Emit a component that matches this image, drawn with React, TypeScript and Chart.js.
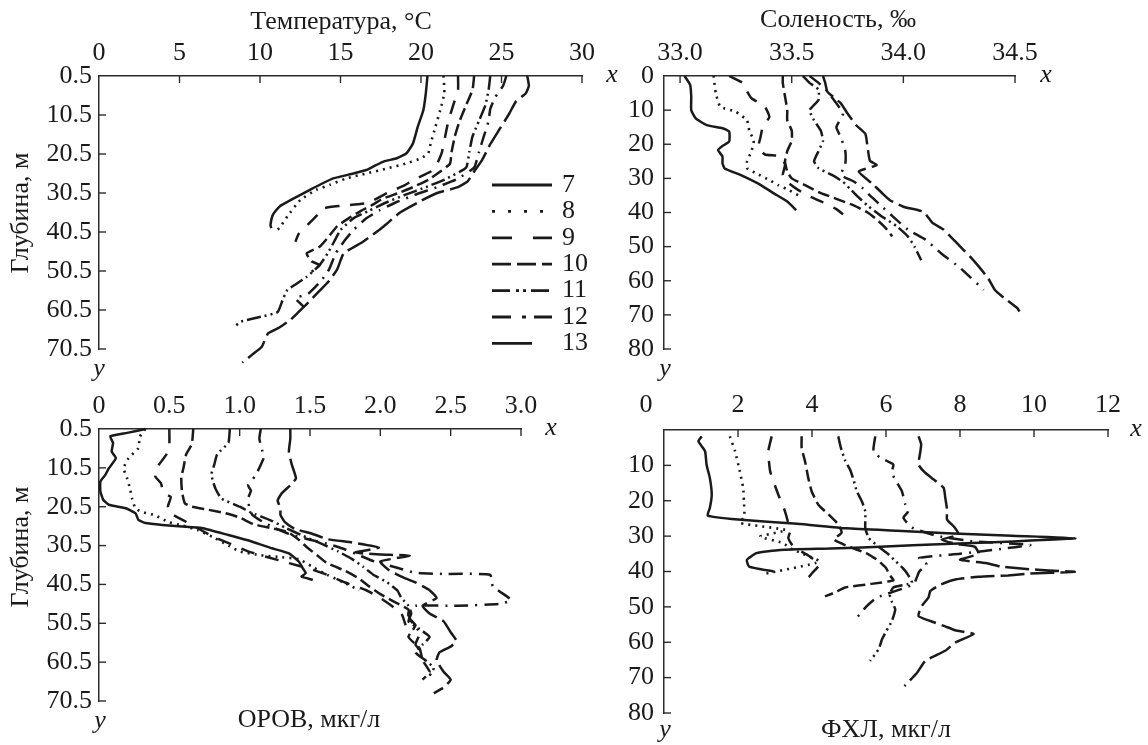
import React, { useEffect, useRef } from 'react';
import { Chart, registerables } from 'chart.js';

Chart.register(...registerables);

// ---------- DATA ----------
const seriesNames = ['7', '8', '9', '10', '11', '12', '13'];

const tempTicks = [0, 5, 10, 15, 20, 25, 30];
const salTicks = [33.0, 33.5, 34.0, 34.5];
const orovTicks = [0, 0.5, 1.0, 1.5, 2.0, 2.5, 3.0];
const fhlTicks = [0, 2, 4, 6, 8, 10, 12];
const depthTicksHalf = [0.5, 10.5, 20.5, 30.5, 40.5, 50.5, 60.5, 70.5];
const depthTicksSal = [0, 10, 20, 30, 40, 50, 60, 70, 80];
const depthTicksFhl = [0, 10, 20, 30, 40, 50, 60, 70, 80];

// pairs: [depth, value]
const temp7 = [[0.5, 20.4], [4.9, 20.3], [9.2, 20.15], [13.5, 19.8], [17.8, 19.5], [20.3, 19.1], [21.6, 18.5], [22.4, 17.7], [23.8, 17.0], [24.6, 16.6], [25.5, 15.8], [26.7, 14.6], [28.0, 13.9], [29.7, 13.1], [31.9, 12.1], [34.0, 11.2], [36.1, 10.8], [38.7, 10.65], [39.5, 10.7]];
const temp8 = [[0.5, 21.4], [4.9, 21.45], [9.2, 21.2], [13.5, 20.9], [17.8, 20.6], [20.3, 20.45], [21.6, 20.0], [22.9, 19.1], [24.2, 17.9], [25.5, 16.6], [26.7, 15.4], [28.4, 14.35], [29.7, 13.5], [32.3, 12.5], [36.5, 11.7], [39.5, 11.2], [40.2, 11.0]];
const temp9 = [[0.5, 22.3], [4, 22.3], [8, 22.0], [12, 21.7], [16, 21.5], [20, 21.3], [23, 21.0], [25, 20.6], [27, 19.6], [28.5, 19.0], [30.5, 17.9], [33, 16.7], [33.8, 15.0], [34.4, 14.0], [36, 13.6], [38.5, 13.0], [41, 12.4], [43, 12.2]];
const temp10 = [[0.5, 23.3], [4, 23.2], [8, 22.8], [12, 22.4], [16, 22.1], [20, 21.9], [23, 21.8], [25, 21.2], [27, 20.5], [29, 19.5], [30.5, 18.6], [32, 17.6], [33.5, 17.0], [35, 16.3], [37, 15.5], [39, 14.8], [42, 14.2], [44.3, 13.7], [46, 12.9], [48, 13.2], [49, 13.7], [50.7, 13.2]];
const temp11 = [[0.5, 24.3], [4, 24.2], [8, 24.0], [12, 23.6], [16, 23.2], [20, 23.0], [24, 22.8], [27, 21.5], [29, 20.3], [31, 19.0], [33, 17.8], [35, 16.8], [37, 15.8], [40, 15.0], [43, 14.6], [46, 14.2], [49, 13.7], [52, 12.9], [55.4, 11.7], [58, 11.4], [61, 11.1], [62.2, 10.1], [63.5, 8.8], [64.5, 8.5]];
const temp12 = [[0.5, 25.3], [3, 25.1], [6, 24.6], [9, 24.3], [12, 24.2], [16, 23.9], [20, 23.6], [24, 23.3], [27, 22.2], [29, 21.0], [31, 19.6], [33, 18.4], [35, 17.4], [37, 16.6], [40, 15.8], [43, 15.2], [46, 14.7], [50, 14.3], [53, 13.8], [56.3, 13.0], [57.5, 12.2], [59.6, 12.7]];
const temp13 = [[0.5, 26.6], [3, 26.7], [5, 26.5], [7, 25.9], [10, 25.5], [14, 24.9], [18, 24.3], [22, 23.8], [25, 23.3], [27.5, 22.9], [29, 22.3], [30.5, 21.0], [32.5, 20.0], [35.5, 18.7], [39, 17.7], [43, 16.4], [46, 15.2], [50, 14.8], [53, 14.3], [56, 13.6], [59, 12.9], [61, 12.4], [63, 11.9], [65, 11.2], [66.5, 10.5], [70, 10.1], [72, 9.5], [74, 8.9]];

const sal7 = [[0, 33.02], [2.6, 33.045], [6.1, 33.05], [10, 33.05], [12.4, 33.07], [14.4, 33.12], [15.3, 33.19], [16.3, 33.22], [19.2, 33.22], [20.5, 33.19], [21.7, 33.17], [23.6, 33.19], [25.6, 33.19], [27.1, 33.2], [29, 33.27], [31.9, 33.36], [34.4, 33.42], [36.8, 33.48], [39.3, 33.52]];
const sal8 = [[0, 33.15], [5, 33.16], [9, 33.18], [10.5, 33.25], [13, 33.3], [16, 33.31], [19, 33.33], [22, 33.32], [25, 33.3], [27, 33.3], [28.5, 33.34], [30.5, 33.4], [32, 33.44], [33.5, 33.49], [35, 33.53]];
const sal9 = [[0, 33.22], [2, 33.28], [4.5, 33.3], [6.5, 33.32], [9, 33.38], [12, 33.4], [15, 33.37], [18, 33.36], [21, 33.35], [23, 33.38], [23.5, 33.45], [26, 33.47], [29, 33.46], [31, 33.48], [33, 33.52], [35, 33.57], [37, 33.64], [39, 33.7], [40.5, 33.73]];
const sal10 = [[0, 33.46], [2, 33.46], [6, 33.47], [10, 33.48], [13, 33.48], [16, 33.5], [19, 33.5], [22, 33.48], [25, 33.47], [28, 33.48], [30, 33.5], [32, 33.56], [34, 33.62], [36, 33.7], [38, 33.78], [40, 33.84], [42, 33.88], [44.5, 33.92], [47, 33.95]];
const sal11 = [[0, 33.55], [2, 33.58], [4, 33.62], [7, 33.62], [10, 33.58], [13, 33.6], [16, 33.63], [19, 33.64], [22, 33.62], [25, 33.6], [27, 33.62], [29, 33.68], [31, 33.73], [33, 33.76], [35, 33.79], [38, 33.84], [41, 33.9], [44, 33.97], [47, 34.02], [50, 34.05], [54, 34.08]];
const sal12 = [[0, 33.58], [2, 33.62], [4.5, 33.66], [8, 33.7], [11, 33.73], [15, 33.7], [18, 33.72], [22, 33.74], [26, 33.74], [29, 33.72], [31, 33.78], [33, 33.82], [35, 33.85], [38, 33.9], [41, 33.95], [45, 34.02], [48, 34.1], [52, 34.17], [56, 34.25], [59, 34.3], [62.7, 34.36]];
const sal13 = [[0, 33.64], [2, 33.65], [4.6, 33.66], [8, 33.72], [11, 33.75], [14.5, 33.79], [17, 33.83], [21, 33.84], [24.8, 33.85], [26.1, 33.88], [28, 33.8], [31.5, 33.86], [34, 33.9], [36.4, 33.94], [38.3, 34.0], [39.8, 34.09], [43, 34.13], [45, 34.18], [49, 34.24], [53, 34.3], [56, 34.34], [59.3, 34.38], [62.7, 34.41], [65, 34.45], [68, 34.51], [69, 34.52]];

const orov7 = [[0.5, 0.33], [1.5, 0.2], [2.4, 0.08], [4.1, 0.1], [6.3, 0.09], [8, 0.12], [10.6, 0.07], [12.3, 0.045], [14, 0.01], [16.6, 0.01], [18.7, 0.03], [20, 0.07], [20.9, 0.19], [22.2, 0.26], [23.9, 0.28], [24.7, 0.33], [25.2, 0.45], [25.6, 0.59], [26, 0.73], [27.8, 0.92], [29.5, 1.09], [31.2, 1.23], [32.5, 1.35], [34.6, 1.42], [36.4, 1.45], [37.6, 1.47], [38.5, 1.44], [39.3, 1.52]];
const orov8 = [[0.5, 0.33], [2.5, 0.29], [5.4, 0.28], [8, 0.21], [10.6, 0.175], [13.2, 0.2], [15.8, 0.22], [18.4, 0.235], [21, 0.26], [22, 0.32], [22.7, 0.4], [24.4, 0.49], [25.3, 0.59], [26.5, 0.7], [28.5, 0.82], [30.5, 0.92], [32, 1.0], [33, 1.15], [33.5, 1.3], [34, 1.42], [36, 1.52], [38, 1.62], [40, 1.74], [42, 1.85]];
const orov9 = [[0.5, 0.5], [4.5, 0.5], [7, 0.48], [10, 0.42], [12.7, 0.4], [14.4, 0.44], [17, 0.46], [18, 0.51], [20.4, 0.49], [22, 0.5], [24, 0.6], [26, 0.7], [28, 0.8], [30, 0.93], [32, 1.06], [33.5, 1.2], [35, 1.35], [36.5, 1.5], [38, 1.62], [40, 1.75], [42, 1.9], [44, 2.0], [46, 2.08], [48, 2.15], [51, 2.18]];
const orov10 = [[0.5, 0.67], [4.4, 0.66], [7, 0.62], [10.6, 0.6], [13, 0.585], [16.6, 0.59], [19.6, 0.61], [20.5, 0.66], [21.3, 0.78], [22.2, 0.9], [23.3, 1.0], [25, 1.1], [26, 1.22], [27, 1.34], [29, 1.42], [31, 1.48], [33, 1.55], [35, 1.62], [37, 1.75], [39, 1.85], [41, 1.92], [43, 2.0], [45, 2.1], [47, 2.2], [49, 2.2], [51, 2.25], [54, 2.2], [57, 2.28], [60, 2.3], [63, 2.35], [65, 2.3]];
const orov11 = [[0.5, 0.93], [4, 0.92], [7, 0.84], [9.6, 0.82], [12, 0.8], [14, 0.81], [16, 0.83], [18.4, 0.87], [20.5, 1.0], [22, 1.08], [24, 1.22], [26, 1.33], [28, 1.45], [30, 1.58], [32, 1.7], [34, 1.8], [36, 1.88], [38, 1.95], [40, 2.05], [42, 2.12], [44, 2.15], [46, 2.2], [48, 2.22], [50, 2.2], [52, 2.28], [54, 2.35], [56, 2.3], [58, 2.25], [60, 2.32], [62, 2.38], [64, 2.35]];
const orov12 = [[0.5, 1.15], [3, 1.14], [6, 1.16], [8, 1.17], [10.5, 1.14], [12.6, 1.11], [15, 1.06], [16.4, 1.08], [18.4, 1.06], [21, 1.07], [22.6, 1.09], [24.3, 1.16], [26, 1.25], [27.5, 1.35], [29, 1.5], [30, 1.62], [31.5, 1.75], [33, 1.85], [34.5, 1.95], [36, 2.1], [37.5, 2.25], [37.8, 2.45], [38, 2.78], [41, 2.8], [44.5, 2.93], [45.5, 2.85], [46, 2.55], [46, 2.25], [48, 2.2], [50, 2.22], [53, 2.28], [56, 2.25], [58, 2.3]];
const orov13 = [[0.5, 1.36], [3, 1.36], [6.3, 1.35], [9.6, 1.37], [13.2, 1.4], [15, 1.36], [17, 1.3], [18.9, 1.27], [20.9, 1.29], [22.6, 1.29], [24.4, 1.32], [26.2, 1.39], [27.4, 1.51], [28.9, 1.63], [29.7, 1.8], [31, 1.99], [32.3, 1.82], [32.8, 2.0], [33.1, 2.21], [34.6, 2.0], [36.8, 2.06], [38.5, 2.15], [40, 2.25], [42, 2.35], [44, 2.4], [46, 2.3], [48, 2.35], [50, 2.45], [52.8, 2.5], [55, 2.54], [56.5, 2.5], [58, 2.42], [60, 2.4], [63, 2.45], [65, 2.5], [67, 2.45], [68.5, 2.38]];

const fhl7 = [[1.8, 1.02], [3.2, 0.93], [6, 1.11], [9.8, 1.15], [13.6, 1.24], [18.3, 1.29], [22, 1.24], [24.2, 1.18], [25.3, 2.0], [26.5, 3.6], [27.8, 4.94], [28.5, 6.3], [29.2, 7.65], [29.9, 9.4], [30.6, 11.12], [31.5, 9.45], [32.2, 7.6], [33, 5.84], [33.5, 4.5], [33.9, 3.14], [34.8, 2.5], [36.7, 2.24], [38.6, 2.3], [40, 2.96]];
const fhl8 = [[1.8, 1.78], [6, 1.92], [11.7, 2.05], [16.4, 2.14], [20, 2.16], [24.4, 2.17], [26.3, 2.06], [28.3, 3.3], [30.1, 2.6], [31.9, 3.2], [33.9, 3.5], [37.2, 4.2], [40.7, 2.7]];
const fhl9 = [[1.8, 2.91], [6, 2.82], [11.7, 2.87], [18.3, 3.09], [23, 3.27], [28.6, 3.41], [30.5, 3.36], [33, 3.5], [35.5, 3.9], [38, 4.2], [40.5, 4.0], [43, 3.8]];
const fhl10 = [[1.8, 3.72], [5.1, 3.72], [8.8, 3.81], [13.6, 3.9], [17.3, 3.99], [21.1, 4.17], [23.9, 4.45], [26.8, 4.72], [29, 4.8], [31, 4.6], [33, 5.0], [35, 5.5], [37, 5.8], [39, 6.0], [41, 6.1], [42.5, 6.2], [43.5, 5.6], [44.5, 4.9], [46, 4.6], [47, 4.35]];
const fhl11 = [[1.8, 4.71], [5, 4.78], [8.8, 4.9], [11.2, 5.03], [14, 5.12], [17.3, 5.21], [20.2, 5.35], [23, 5.44], [25.8, 5.44], [27.6, 5.44], [30.5, 5.53], [33, 5.8], [35, 6.05], [37, 6.25], [39, 6.45], [41, 6.6], [43.2, 6.7], [44.5, 6.2], [46.5, 6.1], [48.6, 6.16], [50.7, 6.25], [54, 6.16], [57, 6.0], [59.2, 5.89], [62, 5.8], [65.3, 5.57]];
const fhl12 = [[1.8, 5.71], [5.9, 5.66], [7.8, 5.84], [9.8, 6.2], [12, 6.15], [14, 6.25], [17.3, 6.43], [21, 6.52], [23, 6.6], [24.8, 6.47], [27.6, 6.7], [30, 7.4], [31.5, 8.4], [32.5, 9.9], [33.5, 9.2], [35, 8.0], [36.2, 6.9], [38, 7.1], [40, 6.9], [43.6, 6.74], [47.4, 5.75], [50, 5.46], [53.6, 5.17]];
const fhl13 = [[1.8, 6.88], [4, 6.95], [6, 6.93], [9.8, 6.88], [12, 7.05], [14, 7.29], [16.4, 7.56], [19, 7.6], [22.5, 7.65], [25.3, 7.65], [27.5, 7.85], [29.6, 7.96], [31, 7.5], [32.2, 7.9], [33, 8.4], [35, 8.5], [36.7, 8.0], [37.6, 8.7], [38.6, 9.1], [39.3, 9.8], [39.7, 10.4], [40.1, 11.1], [40.6, 9.9], [41.1, 9.3], [41.5, 8.5], [42.2, 7.9], [43.7, 7.48], [45.5, 7.2], [47.3, 7.15], [50, 6.95], [52.6, 6.88], [54, 7.2], [55.5, 7.6], [56.6, 7.87], [57.7, 8.37], [60.1, 7.87], [62.4, 7.6], [65.3, 7.06], [68.6, 6.84], [72.4, 6.5]];

// ---------- STYLE ----------
const W = 1148;
const H = 745;
const LINE = '#1a1a1a';
const AXIS = '#2b2b2b';
const TEXT = '#1a1a1a';
const FONT = "'Liberation Serif', 'Times New Roman', serif";
const DASHES = [[], [2, 5], [14, 11], [12, 5], [14, 4, 2, 4, 2, 4], [14, 7, 2, 7], [24, 6]];
const LEGEND_DASHES = [[], [3, 13], [20, 21], [19, 6], [18, 6, 3, 4, 3, 5], [19, 11, 4, 8], [40, 200]];
const X_BOX = 50;
const Y_BOX = 60;
const TICK_LEN = 7;

const fmt1 = (v: number) => v.toFixed(1);
const fmtInt = (v: number) => String(v);
const fmtOrov = (v: number) => (v === 0 ? '0' : v.toFixed(1));

const panels = [
  {
    area: { left: 99, top: 76, right: 582, bottom: 349 },
    x: { min: 0, max: 30, ticks: tempTicks, fmt: fmtInt, pad: 7 },
    y: { min: 0.5, max: 70.5, ticks: depthTicksHalf, fmt: fmt1, pad: 7 },
    series: [temp7, temp8, temp9, temp10, temp11, temp12, temp13],
    legend: { x0: 492, x1: 552, labelX: 562, y0: 185, dy: 26.4 },
    texts: [
      { t: 'Температура, °С', x: 341, y: 22 },
      { t: 'Глубина, м', x: 21, y: 213, rot: true },
      { t: 'x', x: 612, y: 75, italic: true },
      { t: 'y', x: 99, y: 369, italic: true },
    ],
  },
  {
    area: { left: 664, top: 76, right: 1015, bottom: 349 },
    x: { min: 32.928, max: 34.5, ticks: salTicks, fmt: fmt1, pad: 7 },
    y: { min: 0, max: 80, ticks: depthTicksSal, fmt: fmtInt, pad: 10 },
    series: [sal7, sal8, sal9, sal10, sal11, sal12, sal13],
    texts: [
      { t: 'Соленость, ‰', x: 838, y: 20 },
      { t: 'x', x: 1046, y: 75, italic: true },
      { t: 'y', x: 665, y: 369, italic: true },
    ],
  },
  {
    area: { left: 99, top: 429, right: 521, bottom: 701 },
    x: { min: 0, max: 3, ticks: orovTicks, fmt: fmtOrov, pad: 7 },
    y: { min: 0.5, max: 70.5, ticks: depthTicksHalf, fmt: fmt1, pad: 7 },
    series: [orov7, orov8, orov9, orov10, orov11, orov12, orov13],
    texts: [
      { t: 'ОРОВ, мкг/л', x: 309, y: 720 },
      { t: 'Глубина, м', x: 21, y: 547, rot: true },
      { t: 'x', x: 551, y: 428, italic: true },
      { t: 'y', x: 100, y: 721, italic: true },
    ],
  },
  {
    area: { left: 664, top: 430, right: 1108, bottom: 713 },
    x: { min: 0, max: 12, ticks: fhlTicks, fmt: (v: number) => (v === 0 ? '' : String(v)), pad: 9 },
    y: { min: 0, max: 80, ticks: depthTicksFhl, fmt: (v: number) => (v === 0 ? '' : String(v)), pad: 10 },
    series: [fhl7, fhl8, fhl9, fhl10, fhl11, fhl12, fhl13],
    texts: [
      { t: 'ФХЛ, мкг/л', x: 886, y: 730 },
      { t: '0', x: 646, y: 405 },
      { t: 'x', x: 1136, y: 429, italic: true },
      { t: 'y', x: 665, y: 730, italic: true },
    ],
  },
];

const decorPlugin = {
  id: 'decor',
  afterDraw(chart: any, _args: any, opts: any) {
    const ctx = chart.ctx as CanvasRenderingContext2D;
    const ca = chart.chartArea;
    const xs = chart.scales.x;
    const ys = chart.scales.y;
    ctx.save();
    ctx.strokeStyle = AXIS;
    ctx.lineWidth = 1.4;
    for (const t of xs.ticks) {
      const px = xs.getPixelForValue(t.value);
      if (Math.abs(px - ca.left) < 1.5) continue;
      ctx.beginPath();
      ctx.moveTo(px, ca.top);
      ctx.lineTo(px, ca.top + TICK_LEN);
      ctx.stroke();
    }
    for (const t of ys.ticks) {
      const py = ys.getPixelForValue(t.value);
      if (Math.abs(py - ca.top) < 1.5) continue;
      ctx.beginPath();
      ctx.moveTo(ca.left, py);
      ctx.lineTo(ca.left + TICK_LEN, py);
      ctx.stroke();
    }
    ctx.fillStyle = TEXT;
    ctx.textAlign = 'center';
    ctx.textBaseline = 'middle';
    for (const tx of opts.texts || []) {
      ctx.save();
      ctx.font = (tx.italic ? 'italic ' : '') + '26px ' + FONT;
      ctx.translate(tx.x, tx.y);
      if (tx.rot) ctx.rotate(-Math.PI / 2);
      ctx.fillText(tx.t, 0, 0);
      ctx.restore();
    }
    const lg = opts.legend;
    if (lg) {
      chart.data.datasets.forEach((ds: any, i: number) => {
        const y = lg.y0 + i * lg.dy;
        ctx.save();
        ctx.strokeStyle = LINE;
        ctx.lineWidth = 2.8;
        ctx.setLineDash(ds.legendDash);
        ctx.beginPath();
        ctx.moveTo(lg.x0, y);
        ctx.lineTo(lg.x1, y);
        ctx.stroke();
        ctx.restore();
        ctx.font = '26px ' + FONT;
        ctx.textAlign = 'left';
        ctx.fillText(ds.label, lg.labelX, y);
      });
    }
    ctx.restore();
  },
};

function makeConfig(p: any): any {
  const datasets = p.series.map((s: number[][], i: number) => ({
    label: seriesNames[i],
    data: s.map(([d, v]) => ({ x: v, y: d })),
    borderColor: LINE,
    borderWidth: i === 1 ? 2.6 : 2.5,
    borderDash: DASHES[i],
    legendDash: LEGEND_DASHES[i],
    pointRadius: 0,
    tension: 0.15,
    fill: false,
    clip: false,
  }));
  const tickFont = { family: FONT, size: 26 };
  return {
    type: 'line',
    data: { datasets },
    options: {
      responsive: false,
      animation: false,
      events: [],
      devicePixelRatio: 1,
      layout: {
        padding: {
          left: p.area.left - Y_BOX,
          top: p.area.top - X_BOX,
          right: W - p.area.right,
          bottom: H - p.area.bottom,
        },
      },
      plugins: {
        legend: { display: false },
        tooltip: { enabled: false },
        title: { display: false },
        decor: { texts: p.texts, legend: p.legend },
      },
      scales: {
        x: {
          type: 'linear',
          position: 'top',
          min: p.x.min,
          max: p.x.max,
          afterBuildTicks: (s: any) => {
            s.ticks = p.x.ticks.map((v: number) => ({ value: v }));
          },
          afterFit: (s: any) => {
            s.height = X_BOX;
          },
          grid: { display: false, drawTicks: false },
          border: { display: true, color: AXIS, width: 1.5 },
          ticks: {
            font: tickFont,
            color: TEXT,
            padding: p.x.pad,
            maxRotation: 0,
            autoSkip: false,
            callback: (v: any) => p.x.fmt(Number(v)),
          },
        },
        y: {
          type: 'linear',
          position: 'left',
          reverse: true,
          min: p.y.min,
          max: p.y.max,
          afterBuildTicks: (s: any) => {
            s.ticks = p.y.ticks.map((v: number) => ({ value: v }));
          },
          afterFit: (s: any) => {
            s.width = Y_BOX;
          },
          grid: { display: false, drawTicks: false },
          border: { display: true, color: AXIS, width: 1.5 },
          ticks: {
            font: tickFont,
            color: TEXT,
            padding: p.y.pad,
            autoSkip: false,
            callback: (v: any) => p.y.fmt(Number(v)),
          },
        },
      },
    },
    plugins: [decorPlugin],
  };
}

function Panel({ cfg }: { cfg: any }) {
  const ref = useRef<HTMLCanvasElement | null>(null);
  useEffect(() => {
    if (!ref.current) return;
    const chart = new Chart(ref.current, makeConfig(cfg));
    return () => chart.destroy();
  }, [cfg]);
  return (
    <canvas
      ref={ref}
      width={W}
      height={H}
      style={{ position: 'absolute', left: 0, top: 0, width: W, height: H }}
    />
  );
}

export default function App() {
  return (
    <div style={{ position: 'absolute', left: 0, top: 0, width: W, height: H, background: '#fff', overflow: 'hidden' }}>
      {panels.map((p, i) => (
        <Panel key={i} cfg={p} />
      ))}
    </div>
  );
}
